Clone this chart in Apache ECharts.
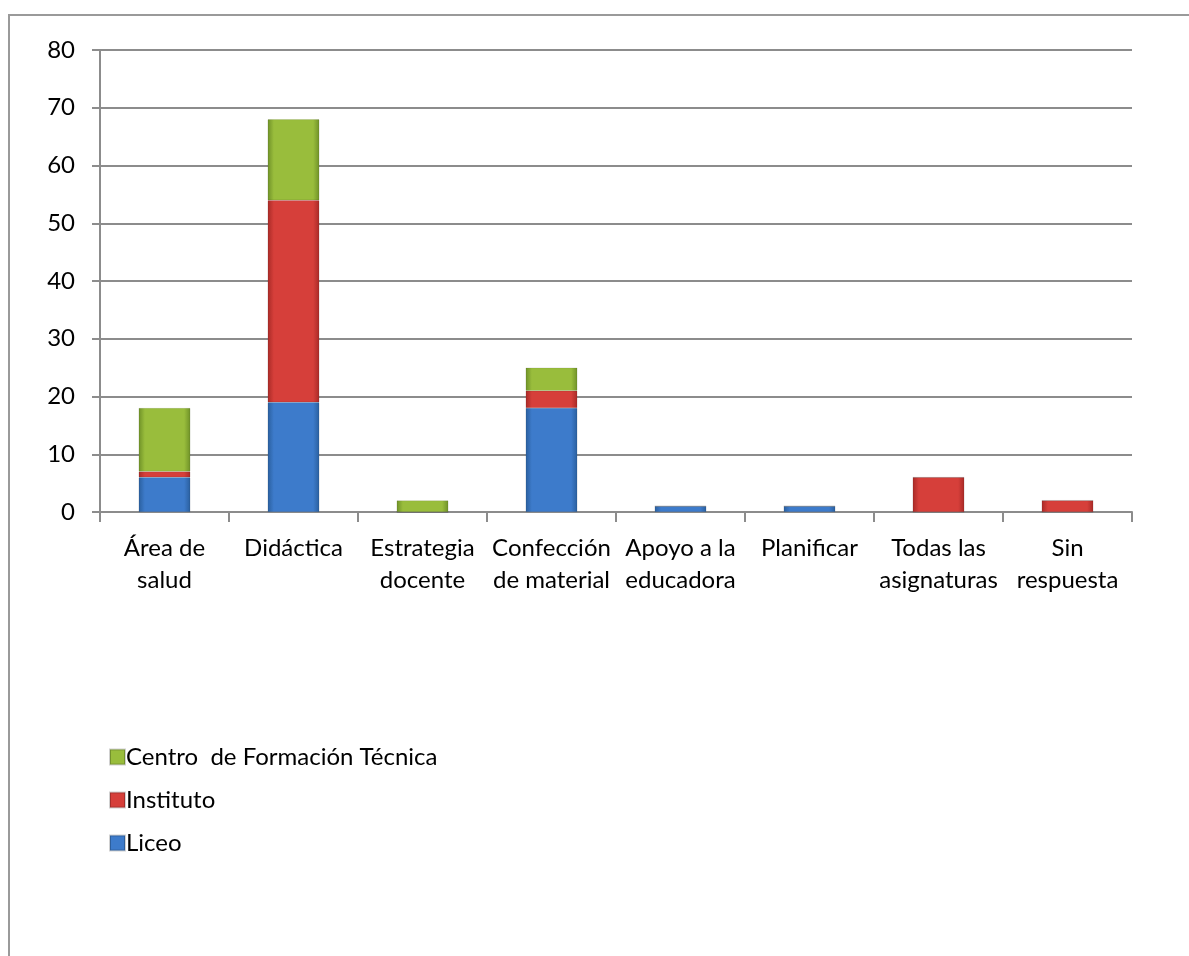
<!DOCTYPE html>
<html><head><meta charset="utf-8">
<script src="https://cdn.jsdelivr.net/npm/echarts@6/dist/echarts.min.js"></script>
<style>
html,body{margin:0;padding:0;background:#fff;}
#frame{position:absolute;left:8px;top:14px;width:1200px;height:960px;border-left:2px solid #9a9a9a;border-top:2px solid #9a9a9a;}
#c{position:absolute;left:0;top:0;width:1189px;height:956px;}
</style></head>
<body>
<div id="frame"></div>
<div id="c"></div>
<script>
const categories = ['Área de\nsalud','Didáctica','Estrategia\ndocente','Confección\nde material','Apoyo a la\neducadora','Planificar','Todas las\nasignaturas','Sin\nrespuesta'];
const liceo = [6, 19, 0, 18, 1, 1, 0, 0];
const instituto = [1, 35, 0, 3, 0, 0, 6, 2];
const cft = [11, 14, 2, 4, 0, 0, 0, 0];
const yTicks = {min:0, max:80, interval:10};

function grad(edge, center){
  return new echarts.graphic.LinearGradient(0,0,1,0,[
    {offset:0,color:edge},{offset:0.12,color:center},{offset:0.88,color:center},{offset:1,color:edge}]);
}
const blue = grad('#2a5f9e','#3d7bcb');
const red = grad('#a82a27','#d63f3a');
const green = grad('#6f9128','#99bd3c');

const chart = echarts.init(document.getElementById('c'));
const lab = {fontFamily:'Lato, "Open Sans", sans-serif', fontSize:24, color:'#000'};
function mk(name, data, color){
  return {name, type:'bar', stack:'s', data, barWidth:'40%',
    itemStyle:{color, borderColor:'rgba(0,0,0,0.18)', borderWidth:0.5}};
}
chart.setOption({
  animation:false,
  grid:{left:100, top:50, right:57, bottom:444, containLabel:false},
  legend:{orient:'vertical', left:104, top:740, itemGap:19, itemWidth:15, itemHeight:15,
    icon:'rect', textStyle:Object.assign({}, lab, {padding:[0,0,0,-4]}),
    data:['Centro  de Formación Técnica','Instituto','Liceo']},
  xAxis:{type:'category', data:categories,
    axisLine:{lineStyle:{color:'#8c8c8c', width:2}},
    axisTick:{show:true, length:10, lineStyle:{color:'#8c8c8c', width:2}},
    axisLabel:Object.assign({}, lab, {interval:0, margin:20, lineHeight:32})},
  yAxis:{type:'value', min:yTicks.min, max:yTicks.max, interval:yTicks.interval,
    axisLine:{show:true, lineStyle:{color:'#8c8c8c', width:2}},
    axisTick:{show:true, length:8, lineStyle:{color:'#8c8c8c', width:2}},
    splitLine:{lineStyle:{color:'#8c8c8c', width:2}},
    axisLabel:Object.assign({}, lab, {margin:25})},
  series:[
    mk('Liceo', liceo, blue),
    mk('Instituto', instituto, red),
    mk('Centro  de Formación Técnica', cft, green)
  ]
});
</script>
</body></html>
